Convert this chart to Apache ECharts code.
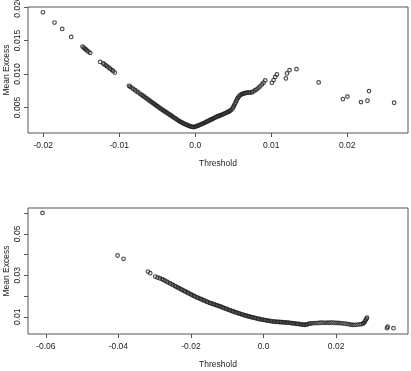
<!DOCTYPE html>
<html>
<head>
<meta charset="utf-8">
<script src="https://cdn.jsdelivr.net/npm/echarts@6/dist/echarts.min.js"></script>
<style>
  html, body { margin: 0; padding: 0; background: #fff; }
  #chart { width: 411px; height: 371px; }
</style>
</head>
<body>
<div id="chart"></div>
<script>
// top panel: mean excess vs threshold
const topThreshold = [
  -0.02004, -0.01851, -0.01750, -0.01632,
  -0.01483, -0.01468, -0.01455, -0.01440, -0.01425, -0.01405, -0.01382,
  -0.01250, -0.01210, -0.01195, -0.01178, -0.01160, -0.01140, -0.01120, -0.01100, -0.01080, -0.01058,
  -0.00872, -0.00858, -0.00840, -0.00815, -0.00790, -0.00770, -0.00748, -0.00725, -0.00705, -0.00690,
  -0.00672, -0.00655, -0.00640, -0.00622, -0.00605,
  -0.00590, -0.00575, -0.00560, -0.00545, -0.00530, -0.00515, -0.00500, -0.00485, -0.00470, -0.00455,
  -0.00440, -0.00425, -0.00410, -0.00395, -0.00380, -0.00365, -0.00350, -0.00335,
  -0.00320, -0.00305, -0.00290, -0.00275, -0.00260, -0.00245, -0.00230, -0.00215, -0.00200, -0.00185,
  -0.00170, -0.00155, -0.00140, -0.00125, -0.00110, -0.00095, -0.00080, -0.00065, -0.00050, -0.00035,
  -0.00020, -0.00005,
  0.00010, 0.00025, 0.00040, 0.00055, 0.00070, 0.00085, 0.00100, 0.00115, 0.00130, 0.00145,
  0.00160, 0.00175, 0.00190, 0.00205, 0.00220, 0.00235, 0.00250, 0.00265, 0.00280, 0.00295,
  0.00310, 0.00325, 0.00340, 0.00355, 0.00370, 0.00385, 0.00400, 0.00415, 0.00430, 0.00445,
  0.00460, 0.00475,
  0.00490, 0.00500, 0.00510, 0.00520, 0.00530, 0.00540, 0.00550, 0.00560, 0.00572, 0.00585,
  0.00600, 0.00615, 0.00630, 0.00648, 0.00665, 0.00685, 0.00705,
  0.00724, 0.00745, 0.00767, 0.00789, 0.00811, 0.00833, 0.00855, 0.00878, 0.00899, 0.00921,
  0.01009, 0.01031, 0.01053, 0.01075, 0.01193, 0.01207, 0.01241, 0.01333,
  0.01625, 0.01943, 0.02003, 0.02182, 0.02267, 0.02287, 0.02618
];
const topMeanExcess = [
  0.01921, 0.01768, 0.01673, 0.01553,
  0.01410, 0.01395, 0.01380, 0.01366, 0.01352, 0.01334, 0.01315,
  0.01181, 0.01157, 0.01145, 0.01130, 0.01115, 0.01098, 0.01080, 0.01062, 0.01045, 0.01022,
  0.00824, 0.00813, 0.00798, 0.00778, 0.00758, 0.00741, 0.00724, 0.00705, 0.00689, 0.00677,
  0.00662, 0.00648, 0.00636, 0.00621, 0.00608,
  0.00595, 0.00582, 0.00570, 0.00557, 0.00545, 0.00533, 0.00520, 0.00508, 0.00496, 0.00483,
  0.00472, 0.00461, 0.00449, 0.00438, 0.00427, 0.00415, 0.00404, 0.00393,
  0.00381, 0.00370, 0.00358, 0.00347, 0.00336, 0.00324, 0.00313, 0.00302, 0.00290, 0.00281,
  0.00273, 0.00264, 0.00256, 0.00248, 0.00240, 0.00233, 0.00226, 0.00220, 0.00214, 0.00210,
  0.00209, 0.00212,
  0.00218, 0.00225, 0.00231, 0.00238, 0.00245, 0.00253, 0.00260, 0.00268, 0.00276, 0.00285,
  0.00293, 0.00302, 0.00310, 0.00318, 0.00327, 0.00335, 0.00343, 0.00351, 0.00360, 0.00367,
  0.00374, 0.00381, 0.00388, 0.00395, 0.00402, 0.00410, 0.00417, 0.00425, 0.00433, 0.00441,
  0.00452, 0.00466,
  0.00485, 0.00505, 0.00527, 0.00548, 0.00572, 0.00597, 0.00620, 0.00641, 0.00660, 0.00678,
  0.00690, 0.00699, 0.00707, 0.00713, 0.00717, 0.00721, 0.00724,
  0.00722, 0.00728, 0.00740, 0.00758, 0.00772, 0.00795, 0.00815, 0.00845, 0.00870, 0.00905,
  0.00869, 0.00909, 0.00958, 0.00994, 0.00935, 0.01009, 0.01058, 0.01073,
  0.00875, 0.00626, 0.00663, 0.00581, 0.00601, 0.00745, 0.00571
];

// bottom panel
const bottomThreshold = [
  -0.06090, -0.04023, -0.03858,
  -0.03186, -0.03122, -0.02984, -0.02921, -0.02860,
  -0.02800, -0.02755, -0.02710, -0.02665, -0.02620, -0.02575, -0.02530, -0.02485, -0.02440,
  -0.02400, -0.02360, -0.02320, -0.02280, -0.02240, -0.02200, -0.02160, -0.02120, -0.02080, -0.02040,
  -0.02000, -0.01960, -0.01920, -0.01880, -0.01840, -0.01800, -0.01760, -0.01720, -0.01680, -0.01640,
  -0.01600, -0.01560, -0.01520, -0.01480, -0.01440, -0.01400, -0.01360, -0.01320, -0.01280, -0.01240,
  -0.01200, -0.01160, -0.01120, -0.01080, -0.01040, -0.01000, -0.00960, -0.00920, -0.00880, -0.00840,
  -0.00800, -0.00760, -0.00720, -0.00680, -0.00640, -0.00600, -0.00560, -0.00520, -0.00480, -0.00440,
  -0.00400, -0.00360, -0.00320, -0.00280, -0.00240, -0.00200, -0.00160, -0.00120, -0.00080, -0.00040,
  0.00000, 0.00040, 0.00080, 0.00120, 0.00160, 0.00200, 0.00240, 0.00280, 0.00320, 0.00360,
  0.00400, 0.00440, 0.00480, 0.00520, 0.00560, 0.00600, 0.00640, 0.00680, 0.00720, 0.00760,
  0.00800, 0.00840, 0.00880, 0.00920, 0.00960, 0.01000, 0.01040, 0.01080, 0.01120, 0.01160,
  0.01200, 0.01240, 0.01280,
  0.01330, 0.01390, 0.01450, 0.01510, 0.01570, 0.01630, 0.01690, 0.01750, 0.01810, 0.01870,
  0.01930, 0.01990, 0.02050, 0.02110, 0.02170, 0.02230, 0.02290, 0.02350, 0.02410, 0.02470,
  0.02530, 0.02590, 0.02650, 0.02700, 0.02740, 0.02770, 0.02790, 0.02810, 0.02835, 0.02850,
  0.03400, 0.03420, 0.03580
];
const bottomMeanExcess = [
  0.06010, 0.03958, 0.03798,
  0.03184, 0.03107, 0.02942, 0.02896, 0.02860,
  0.02820, 0.02778, 0.02736, 0.02694, 0.02652, 0.02610, 0.02568, 0.02526, 0.02484,
  0.02447, 0.02410, 0.02372, 0.02335, 0.02298, 0.02260, 0.02224, 0.02188, 0.02152, 0.02116,
  0.02080, 0.02044, 0.02008, 0.01974, 0.01942, 0.01910, 0.01878, 0.01849, 0.01819, 0.01789,
  0.01759, 0.01729, 0.01699, 0.01670, 0.01646, 0.01622, 0.01597, 0.01573, 0.01549, 0.01525,
  0.01500, 0.01472, 0.01445, 0.01418, 0.01392, 0.01365, 0.01338, 0.01312, 0.01285, 0.01258,
  0.01233, 0.01210, 0.01188, 0.01165, 0.01142, 0.01119, 0.01097, 0.01074, 0.01051, 0.01031,
  0.01014, 0.00997, 0.00979, 0.00962, 0.00945, 0.00928, 0.00910, 0.00893, 0.00877, 0.00865,
  0.00853, 0.00841, 0.00829, 0.00817, 0.00805, 0.00794, 0.00782, 0.00770, 0.00765, 0.00759,
  0.00754, 0.00748, 0.00743, 0.00738, 0.00732, 0.00727, 0.00721, 0.00717, 0.00708, 0.00699,
  0.00690, 0.00681, 0.00672, 0.00663, 0.00654, 0.00646, 0.00633, 0.00624, 0.00612, 0.00617,
  0.00635, 0.00655, 0.00675,
  0.00685, 0.00690, 0.00695, 0.00702, 0.00712, 0.00715, 0.00710, 0.00718, 0.00714, 0.00720,
  0.00716, 0.00705, 0.00700, 0.00692, 0.00684, 0.00670, 0.00660, 0.00640, 0.00622, 0.00608,
  0.00612, 0.00625, 0.00638, 0.00650, 0.00672, 0.00710, 0.00770, 0.00830, 0.00900, 0.00960,
  0.00450, 0.00520, 0.00450
];

// axis ticks and labels
const topXTicks = [-0.02, -0.01, 0, 0.01, 0.02];
const topXLabels = ['-0.02', '-0.01', '0.0', '0.01', '0.02'];
const topYTicks = [0.005, 0.010, 0.015, 0.020];
const topYLabels = ['0.005', '0.010', '0.015', '0.020'];
const bottomXTicks = [-0.06, -0.04, -0.02, 0, 0.02];
const bottomXLabels = ['-0.06', '-0.04', '-0.02', '0.0', '0.02'];
const bottomYTicks = [0.01, 0.02, 0.03, 0.04, 0.05, 0.06];
const bottomYLabelValues = [0.01, 0.03, 0.05];
const bottomYLabels = ['0.01', '0.03', '0.05'];

const FONT = 'Liberation Sans, Arial, Helvetica, sans-serif';
const TEXT = '#222';
const LINE = '#555';

function zip(xs, ys) {
  return xs.map((x, i) => [x, ys[i]]);
}

function labelFor(values, labels) {
  return (v) => {
    const i = values.findIndex((t) => Math.abs(t - v) < 1e-9);
    return i >= 0 ? labels[i] : '';
  };
}

function xAxis(gridIndex, min, max, ticks, labels) {
  return {
    type: 'value',
    gridIndex,
    min,
    max,
    name: 'Threshold',
    nameLocation: 'middle',
    nameGap: 26,
    nameMoveOverlap: false,
    nameTextStyle: { fontFamily: FONT, fontSize: 8.5, color: TEXT },
    axisLine: { show: false, onZero: false },
    splitLine: { show: false },
    axisTick: { show: true, inside: false, length: 4, customValues: ticks, lineStyle: { color: LINE } },
    axisLabel: {
      customValues: ticks,
      formatter: labelFor(ticks, labels),
      margin: 8,
      fontFamily: FONT,
      fontSize: 8.5,
      color: TEXT,
      showMinLabel: true,
      showMaxLabel: true,
    },
  };
}

function yAxis(gridIndex, min, max, ticks, labelValues, labels) {
  return {
    type: 'value',
    gridIndex,
    min,
    max,
    name: 'Mean Excess',
    nameLocation: 'middle',
    nameRotate: 90,
    nameGap: 17,
    nameMoveOverlap: false,
    nameTextStyle: { fontFamily: FONT, fontSize: 8.5, color: TEXT },
    axisLine: { show: false, onZero: false },
    splitLine: { show: false },
    axisTick: { show: true, inside: false, length: 4, customValues: ticks, lineStyle: { color: LINE } },
    axisLabel: {
      customValues: labelValues,
      formatter: labelFor(labelValues, labels),
      rotate: 90,
      margin: 6,
      fontFamily: FONT,
      fontSize: 8.5,
      color: TEXT,
      showMinLabel: true,
      showMaxLabel: true,
    },
  };
}

function pointSeries(xAxisIndex, yAxisIndex, data) {
  return {
    type: 'scatter',
    xAxisIndex,
    yAxisIndex,
    data,
    symbol: 'circle',
    symbolSize: 3.6,
    silent: true,
    itemStyle: { color: 'rgba(0,0,0,0)', borderColor: '#222', borderWidth: 1.2 },
  };
}

const gridBase = {
  show: true,
  borderColor: LINE,
  borderWidth: 1,
  backgroundColor: 'transparent',
  containLabel: false,
  outerBoundsMode: 'none',
};

const chart = echarts.init(document.getElementById('chart'), null, { renderer: 'canvas' });
chart.setOption({
  animation: false,
  backgroundColor: '#fff',
  grid: [
    Object.assign({ left: 28, top: 7, width: 380, height: 126 }, gridBase),
    Object.assign({ left: 28, top: 208, width: 380, height: 126 }, gridBase),
  ],
  xAxis: [
    xAxis(0, -0.022, 0.028, topXTicks, topXLabels),
    xAxis(1, -0.0649, 0.0398, bottomXTicks, bottomXLabels),
  ],
  yAxis: [
    yAxis(0, 0.0012, 0.0200, topYTicks, topYTicks, topYLabels),
    yAxis(1, 0.0017, 0.0625, bottomYTicks, bottomYLabelValues, bottomYLabels),
  ],
  series: [
    pointSeries(0, 0, zip(topThreshold, topMeanExcess)),
    pointSeries(1, 1, zip(bottomThreshold, bottomMeanExcess)),
  ],
});
</script>
</body>
</html>
